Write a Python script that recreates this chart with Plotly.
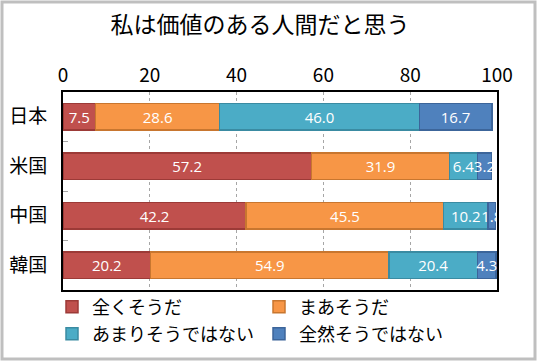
import plotly.graph_objects as go

categories = ["日本", "米国", "中国", "韓国"]
series_names = ["全くそうだ", "まあそうだ", "あまりそうではない", "全然そうではない"]
v_zenku = [7.5, 57.2, 42.2, 20.2]
v_maa = [28.6, 31.9, 45.5, 54.9]
v_amari = [46.0, 6.4, 10.2, 20.4]
v_zenzen = [16.7, 3.2, 1.8, 4.3]
tick_vals = [0, 20, 40, 60, 80, 100]

values = [v_zenku, v_maa, v_amari, v_zenzen]
colors = ["#C0504D", "#F79646", "#4BACC6", "#4F81BD"]
edges = ["#9C3A37", "#C8762F", "#3A8BA2", "#3C659A"]
legend_ids = ["legend", "legend", "legend2", "legend2"]

JP = "Noto Sans CJK JP"
fig = go.Figure()
for name, vals, c, e, lg in zip(series_names, values, colors, edges, legend_ids):
    fig.add_trace(go.Bar(
        y=categories, x=vals, name=name, orientation="h", legend=lg,
        marker=dict(color=c, line=dict(color=e, width=1.5)),
        text=vals, texttemplate="%{x:.1f}", textposition="inside", textangle=0,
        insidetextanchor="middle", constraintext="none",
        textfont=dict(color="white", size=15, family="Open Sans"),
    ))

W, H = 537, 361
L, R, T, B = 63, 40, 92, 71
pw, ph = W - L - R, H - T - B

def py(p):  # pixel y -> paper y
    return (T + ph - p) / ph

def px(p):
    return (p - L) / pw

leg_common = dict(orientation="h", xanchor="left", yanchor="middle",
                  entrywidth=162, entrywidthmode="pixels",
                  font=dict(size=18, family=JP), itemwidth=30,
                  traceorder="normal", bgcolor="rgba(0,0,0,0)")

fig.update_layout(
    width=W, height=H, barmode="stack", bargap=0.46,
    margin=dict(l=L, r=R, t=T, b=B, autoexpand=False),
    paper_bgcolor="white", plot_bgcolor="white",
    font=dict(family=JP, color="black"),
    title=dict(text="私は価値のある人間だと思う", x=260 / W, xanchor="center",
               y=1 - 25 / H, yanchor="middle", font=dict(size=23, family=JP)),
    xaxis=dict(range=[0, 100], side="top", tickvals=tick_vals,
               showgrid=True, gridcolor="#A6A6A6", griddash="dot", gridwidth=1,
               showline=True, mirror=True, linecolor="black", linewidth=2,
               tickfont=dict(size=19, family=JP), ticks="", zeroline=False),
    yaxis=dict(autorange="reversed", showline=True, mirror=True,
               linecolor="black", linewidth=2, ticks="inside", ticklen=5,
               tickcolor="#A6A6A6", tickson="boundaries",
               tickfont=dict(size=19, family=JP), ticklabelstandoff=10),
    legend=dict(x=px(52), y=py(307), **leg_common),
    legend2=dict(x=px(52), y=py(334), **leg_common),
    showlegend=True,
)

# outer gray border
fig.add_shape(type="rect", xref="paper", yref="paper",
              x0=px(2), x1=px(W - 2), y0=py(H - 2), y1=py(2),
              line=dict(color="#BFBFBF", width=3), layer="below")

fig.write_html("out.html", config={"displayModeBar": False})
with open("out.html", encoding="utf-8") as f:
    html = f.read()
html = html.replace("<body>", "<body style=\"margin:0;padding:0;\">", 1)
with open("out.html", "w", encoding="utf-8") as f:
    f.write(html)
